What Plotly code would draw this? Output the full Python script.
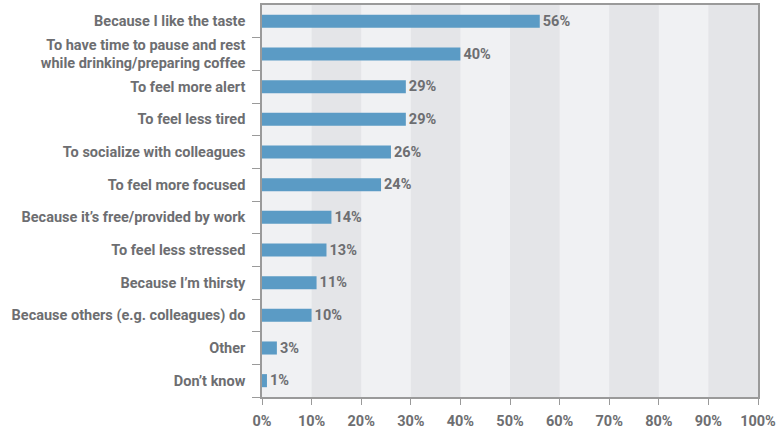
import plotly.graph_objects as go

categories = [
    "Because I like the taste",
    "To have time to pause and rest<br>while drinking/preparing coffee",
    "To feel more alert",
    "To feel less tired",
    "To socialize with colleagues",
    "To feel more focused",
    "Because it\u2019s free/provided by work",
    "To feel less stressed",
    "Because I\u2019m thirsty",
    "Because others (e.g. colleagues) do",
    "Other",
    "Don\u2019t know",
]
values = [56, 40, 29, 29, 26, 24, 14, 13, 11, 10, 3, 1]
tick_vals = list(range(0, 101, 10))
tick_text = [f"{v}%" for v in tick_vals]
dark_bands = [(10, 20), (30, 40), (50, 60), (70, 80), (90, 100)]

GRAY = "#6d6e71"
LINE = "#9a9a9a"
FONT = "Roboto"
FS = 14.5

fig = go.Figure(go.Bar(
    y=categories,
    x=values,
    orientation="h",
    width=0.4,
    marker=dict(color="#5b9bc5", line=dict(width=0)),
    text=[f"<b>{v}%</b>" for v in values],
    textposition="outside",
    constraintext="none",
    textfont=dict(color=GRAY, size=FS, family=FONT),
    cliponaxis=False,
))

shapes = [
    dict(type="rect", xref="x", yref="paper", x0=a, x1=b, y0=0, y1=1,
         fillcolor="#e4e5e8", line=dict(width=0), layer="below")
    for a, b in dark_bands
]

fig.update_layout(
    width=780, height=429,
    margin=dict(l=262, r=22, t=5, b=32),
    paper_bgcolor="white",
    plot_bgcolor="#f0f1f3",
    showlegend=False,
    shapes=shapes,
    font=dict(family=FONT, color=GRAY, size=FS),
    xaxis=dict(
        range=[0, 100], tickvals=tick_vals, ticktext=[f"<b>{t}</b>" for t in tick_text],
        showgrid=False, zeroline=False, showline=True, linecolor=LINE, linewidth=1.5,
        mirror=True, ticks="outside", ticklen=6, tickcolor=LINE,
        tickfont=dict(size=FS, color=GRAY, family=FONT),
        ticklabelstandoff=4, automargin=False,
    ),
    yaxis=dict(
        categoryorder="array", categoryarray=categories[::-1],
        showgrid=False, zeroline=False, showline=True, linecolor=LINE, linewidth=1.5,
        mirror=True, ticks="outside", ticklen=8, tickcolor=LINE, tickson="boundaries",
        tickfont=dict(size=FS, color=GRAY, family=FONT),
        ticklabelstandoff=12, automargin=False,
    ),
)
fig.update_yaxes(ticktext=[f"<b>{c}</b>" for c in categories], tickvals=categories)

fig.write_html("out.html")
